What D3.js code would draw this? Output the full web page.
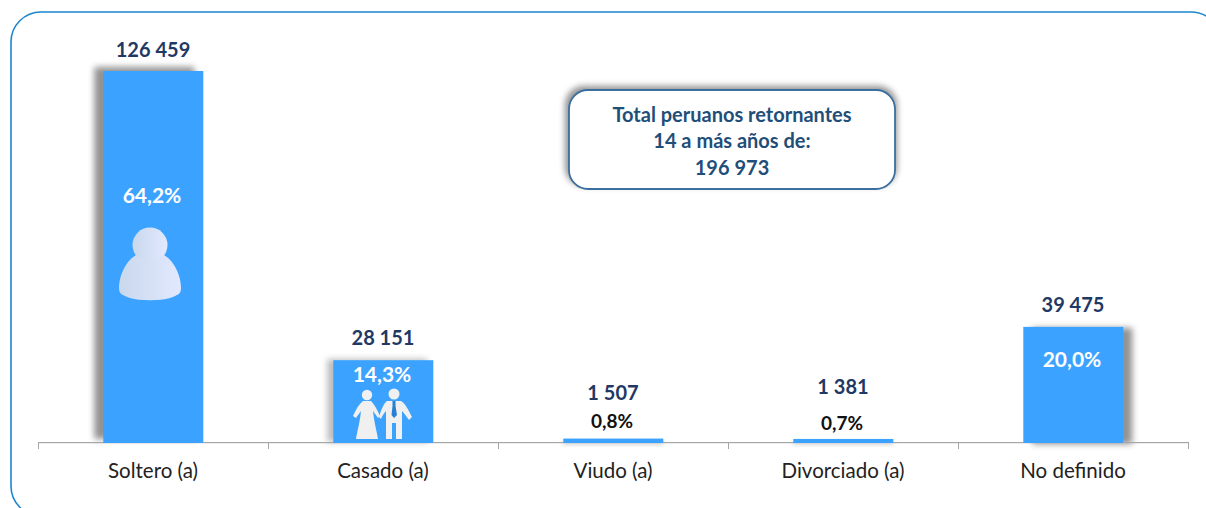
<!DOCTYPE html>
<html lang="es">
<head>
<meta charset="utf-8">
<script src="https://cdn.jsdelivr.net/npm/d3@7"></script>
<style>
html,body{margin:0;padding:0;background:#fff;overflow:hidden}
svg{display:block}
text{font-family:Lato,"Open Sans",sans-serif}
</style>
</head>
<body>
<div id="chart"></div>
<script>
// Data
const categories = ["Soltero (a)", "Casado (a)", "Viudo (a)", "Divorciado (a)", "No definido"];
const counts = [126459, 28151, 1507, 1381, 39475];
const shares = ["64,2%", "14,3%", "0,8%", "0,7%", "20,0%"];
const totalLines = ["Total peruanos retornantes", "14 a más años de:", "196 973"];

// Layout (not data)
const W = 1206, H = 508;
const axisY = 443, axisLeft = 38, axisRight = 1188;
const countGap = [14.5, 15, 38.5, 44.5, 14.5];
const shareDrop = [132, 22, -10.5, -8.5, 40];
const shareDark = [false, false, true, true, false];
const shadow = [
  {dx:-9, dy:-4, blur:3, op:.8},
  {dx:-6, dy:-1, blur:3, op:.5},
  {dx:0, dy:2, blur:2, op:.3},
  {dx:0, dy:2, blur:2, op:.3},
  {dx:9, dy:1, blur:3, op:.8}
];

const svg = d3.select("#chart").append("svg").attr("width", W).attr("height", H);
const defs = svg.append("defs");
[2, 3].forEach(b => defs.append("filter").attr("id", "blur" + b)
  .attr("x", "-30%").attr("y", "-30%").attr("width", "160%").attr("height", "160%")
  .append("feGaussianBlur").attr("stdDeviation", b));
const grad = defs.append("linearGradient").attr("id", "personFill");
grad.append("stop").attr("offset", "0%").attr("stop-color", "#c9d8ec");
grad.append("stop").attr("offset", "100%").attr("stop-color", "#e2e9ff");

// Outer frame, running off the page at right and bottom
svg.append("rect").attr("x", 11).attr("y", 12).attr("width", 1210).attr("height", 504)
  .attr("rx", 30).attr("ry", 30).attr("fill", "#fff").attr("stroke", "#1a86d0").attr("stroke-width", 1.6);

const x = d3.scaleBand().domain(categories).range([axisLeft, axisRight]).padding(0);
const y = d3.scaleLinear().domain([0, 126459]).range([axisY, 71]);
const barW = 100;
const barX = d => x(d) + (x.bandwidth() - barW) / 2 + 0.3;
const data = categories.map((c, i) => ({c, v: counts[i], s: shares[i], i}));

// Shadows
svg.append("g").selectAll("rect").data(data).join("rect")
  .attr("x", d => barX(d.c) + shadow[d.i].dx)
  .attr("y", d => y(d.v) + shadow[d.i].dy)
  .attr("width", barW)
  .attr("height", d => axisY - y(d.v))
  .attr("fill", "#777")
  .attr("opacity", d => shadow[d.i].op)
  .attr("filter", d => "url(#blur" + shadow[d.i].blur + ")");

// Axis
const axis = d3.axisBottom(x).tickSize(0).tickPadding(35);
const ag = svg.append("g").attr("transform", `translate(0,${axisY})`).call(axis);
ag.select(".domain").remove();
ag.selectAll("text").attr("font-size", 20.5).attr("fill", "#222").attr("dy", 0)
  .attr("font-family", "Lato");
svg.append("rect").attr("x", axisLeft).attr("width", axisRight - axisLeft).attr("y", axisY - 1).attr("height", 1.2)
  .attr("fill", "#a6a6a6");
const edges = d3.range(categories.length + 1).map(i => axisLeft + i * x.step());
svg.append("g").selectAll("line").data(edges).join("line")
  .attr("x1", d => d + .5).attr("x2", d => d + .5).attr("y1", axisY - 1).attr("y2", axisY + 6)
  .attr("stroke", "#a6a6a6").attr("stroke-width", 1);

// Bars
svg.append("g").selectAll("rect").data(data).join("rect")
  .attr("x", d => barX(d.c)).attr("y", d => y(d.v))
  .attr("width", barW).attr("height", d => axisY - y(d.v))
  .attr("fill", "#3ba3ff");

// Count labels
svg.append("g").selectAll("text").data(data).join("text")
  .attr("x", d => x(d.c) + x.bandwidth() / 2)
  .attr("y", d => y(d.v) - countGap[d.i])
  .attr("text-anchor", "middle").attr("font-size", 20).attr("font-weight", 700)
  .attr("fill", "#1f3864")
  .text(d => d3.format(",")(d.v).replace(",", " "));

// Share labels
svg.append("g").selectAll("text").data(data).join("text")
  .attr("x", d => x(d.c) + x.bandwidth() / 2 - 1)
  .attr("y", d => y(d.v) + shareDrop[d.i])
  .attr("text-anchor", "middle").attr("font-size", d => shareDark[d.i] ? 19 : 21).attr("font-weight", 700)
  .attr("fill", d => shareDark[d.i] ? "#111" : "#fff")
  .text(d => d.s);

// Single person icon
const p = svg.append("g").attr("transform", `translate(${x(categories[0]) + x.bandwidth() / 2 - 3},${y(counts[0]) - 1})`);
p.append("circle").attr("cx", 0).attr("cy", 175).attr("r", 17.5).attr("fill", "url(#personFill)");
p.append("path").attr("fill", "url(#personFill)")
  .attr("d", "M-14,185 C-26,192 -31,208 -31,218 C-31,224 -28,225 -20,228 C-10,231 10,231 20,228 C28,225 31,224 31,218 C31,208 26,192 14,185 C5,191 -5,191 -14,185 Z");

// Couple icon
const c = svg.append("g").attr("transform", `translate(${x(categories[1]) + x.bandwidth() / 2},${axisY - 1})`).attr("fill", "#f0f0f0");
c.append("circle").attr("cx", -16).attr("cy", -47).attr("r", 5.2);
c.append("path").attr("d", "M-20,-41 L-12,-41 C-9,-38 -6,-33 -3,-26 L-5,-24 C-8,-28 -9,-30 -10,-31 C-9,-20 -6,-10 -5,-3 L-27,-3 C-26,-10 -23,-20 -22,-31 C-24,-28 -26,-26 -27,-24 L-30,-26 C-27,-33 -24,-38 -20,-41 Z");
c.append("circle").attr("cx", 11).attr("cy", -48).attr("r", 5.5);
c.append("path").attr("d", "M4,-41 L18,-41 C22,-39 26,-31 29,-25 L26,-22 C23,-26 21,-29 19,-31 L19,-3 L13,-3 L13,-19 L9,-19 L9,-3 L3,-3 L3,-31 C1,-29 -1,-26 -2,-23 L-4,-25 C-2,-31 0,-38 4,-41 Z");
c.append("path").attr("fill", "#2a7fd0").attr("d", "M9.5,-41 L12.5,-41 L12.5,-36 L14,-27 L11,-24 L8.5,-27 L9.5,-36 Z");

// Total box
const box = svg.append("g");
box.append("rect").attr("x", 565).attr("y", 86).attr("width", 332).attr("height", 100).attr("rx", 19)
  .attr("fill", "#777").attr("opacity", .8).attr("filter", "url(#blur3)");
box.append("rect").attr("x", 569).attr("y", 90).attr("width", 326).attr("height", 99).attr("rx", 19)
  .attr("fill", "#fff").attr("stroke", "#3a6f9f").attr("stroke-width", 1.8);
box.append("g").selectAll("text").data(totalLines).join("text")
  .attr("x", 732).attr("y", (d, i) => 121.6 + i * 26.5)
  .attr("text-anchor", "middle").attr("font-size", 20).attr("font-weight", 700).attr("fill", "#1f4e79")
  .text(d => d);
</script>
</body>
</html>
